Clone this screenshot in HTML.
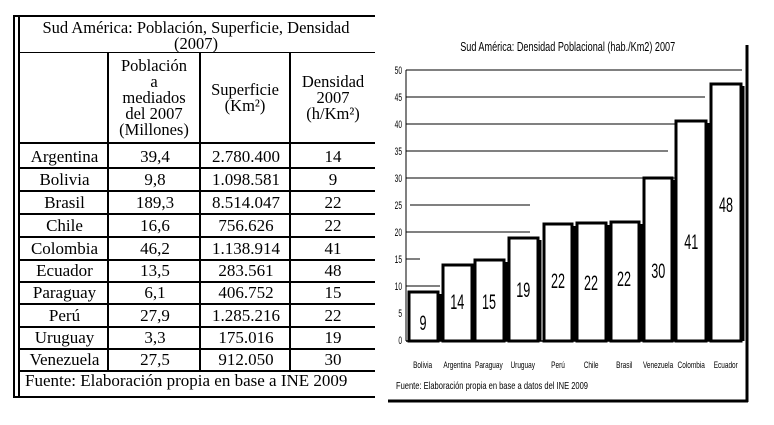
<!DOCTYPE html>
<html><head><meta charset="utf-8"><style>
body{margin:0;width:774px;height:425px;background:#fff;overflow:hidden;position:relative;font-family:"Liberation Serif",serif;color:#000}
.a{position:absolute}
.t{position:absolute;text-align:center;font-size:16.5px;line-height:16px}
.h{position:absolute;background:#000;height:2px}
.v{position:absolute;background:#000;width:2px}
</style></head><body>
<div class="h" style="left:13px;top:15px;width:362px"></div>
<div class="v" style="left:13px;top:15px;height:383px"></div>
<div class="v" style="left:18px;top:15px;height:383px"></div>
<div class="h" style="left:18px;top:52px;width:357px;height:1px"></div>
<div class="h" style="left:18px;top:142px;width:357px"></div>
<div class="h" style="left:18px;top:167px;width:357px"></div>
<div class="h" style="left:18px;top:190px;width:357px"></div>
<div class="h" style="left:18px;top:213px;width:357px"></div>
<div class="h" style="left:18px;top:236px;width:357px"></div>
<div class="h" style="left:18px;top:259px;width:357px"></div>
<div class="h" style="left:18px;top:281px;width:357px"></div>
<div class="h" style="left:18px;top:303px;width:357px"></div>
<div class="h" style="left:18px;top:326px;width:357px"></div>
<div class="h" style="left:18px;top:348px;width:357px"></div>
<div class="h" style="left:18px;top:370px;width:357px"></div>
<div class="h" style="left:13px;top:396px;width:362px"></div>
<div class="v" style="left:107px;top:52px;height:318px"></div>
<div class="v" style="left:199px;top:52px;height:318px"></div>
<div class="v" style="left:289px;top:52px;height:318px"></div>
<div class="t" style="left:20px;top:20px;width:352px">Sud América: Población, Superficie, Densidad<br>(2007)</div>
<div class="t" style="left:109px;top:58px;width:90px">Población<br>a<br>mediados<br>del 2007<br>(Millones)</div>
<div class="t" style="left:201px;top:82px;width:88px">Superficie<br>(Km²)</div>
<div class="t" style="left:291px;top:74px;width:84px">Densidad<br>2007<br>(h/Km²)</div>
<div class="a" style="left:20px;top:145px;width:355px">
<table style="border-collapse:collapse;font-size:17px;text-align:center" cellpadding="0">
<tr style="height:23px"><td style="width:89px">Argentina</td><td style="width:92px">39,4</td><td style="width:90px">2.780.400</td><td style="width:84px">14</td></tr>
<tr style="height:23px"><td>Bolivia</td><td>9,8</td><td>1.098.581</td><td>9</td></tr>
<tr style="height:23px"><td>Brasil</td><td>189,3</td><td>8.514.047</td><td>22</td></tr>
<tr style="height:23px"><td>Chile</td><td>16,6</td><td>756.626</td><td>22</td></tr>
<tr style="height:23px"><td>Colombia</td><td>46,2</td><td>1.138.914</td><td>41</td></tr>
<tr style="height:22px"><td>Ecuador</td><td>13,5</td><td>283.561</td><td>48</td></tr>
<tr style="height:22px"><td>Paraguay</td><td>6,1</td><td>406.752</td><td>15</td></tr>
<tr style="height:23px"><td>Perú</td><td>27,9</td><td>1.285.216</td><td>22</td></tr>
<tr style="height:22px"><td>Uruguay</td><td>3,3</td><td>175.016</td><td>19</td></tr>
<tr style="height:22px"><td>Venezuela</td><td>27,5</td><td>912.050</td><td>30</td></tr>
</table></div>
<div class="a" style="left:25px;top:372px;font-size:17px;line-height:18px">Fuente: Elaboración propia en base a INE 2009</div>

<svg class="a" style="left:0;top:0" width="774" height="425" viewBox="0 0 774 425" font-family="Liberation Sans, sans-serif">
<line x1="747" y1="45" x2="747" y2="402" stroke="#000" stroke-width="3"/>
<line x1="388" y1="401" x2="748" y2="401" stroke="#000" stroke-width="3"/>
<line x1="406" y1="70" x2="406" y2="341" stroke="#000" stroke-width="1"/>
<line x1="406" y1="341" x2="742" y2="341" stroke="#000" stroke-width="1.5"/>
<g stroke="#000" stroke-width="1">
<line x1="406" y1="70" x2="742" y2="70"/><line x1="406" y1="97" x2="705" y2="97"/>
<line x1="406" y1="124" x2="680" y2="124"/><line x1="406" y1="151" x2="668" y2="151"/>
<line x1="406" y1="178" x2="680" y2="178"/><line x1="410" y1="205" x2="530" y2="205"/>
<line x1="406" y1="232" x2="530" y2="232"/><line x1="406" y1="259" x2="420" y2="259"/>
<line x1="406" y1="286" x2="440" y2="286"/></g>
<g font-size="11" text-anchor="end" transform="scale(0.6,1)">
<text x="670" y="74">50</text><text x="670" y="101">45</text><text x="670" y="128">40</text>
<text x="670" y="155">35</text><text x="670" y="182">30</text><text x="670" y="209">25</text>
<text x="670" y="236">20</text><text x="670" y="263">15</text><text x="670" y="290">10</text>
<text x="670" y="317">5</text><text x="670" y="344">0</text></g>
<g fill="#fff" stroke="#000" stroke-width="3">
<rect x="409" y="292" width="29" height="49"/><rect x="443" y="265" width="29" height="76"/>
<rect x="475" y="260" width="29" height="81"/><rect x="509" y="238" width="29" height="103"/>
<rect x="544" y="224" width="28" height="117"/><rect x="577" y="223" width="29" height="118"/>
<rect x="611" y="222" width="28" height="119"/><rect x="644" y="178" width="28" height="163"/>
<rect x="676" y="121" width="30" height="220"/><rect x="711" y="84" width="30" height="257"/></g>
<g stroke="#000" stroke-width="3">
<line x1="440" y1="294" x2="440" y2="341"/><line x1="474" y1="267" x2="474" y2="341"/>
<line x1="506" y1="262" x2="506" y2="341"/><line x1="540" y1="240" x2="540" y2="341"/>
<line x1="574" y1="226" x2="574" y2="341"/><line x1="608" y1="225" x2="608" y2="341"/>
<line x1="641" y1="224" x2="641" y2="341"/><line x1="674" y1="180" x2="674" y2="341"/>
<line x1="708" y1="123" x2="708" y2="341"/><line x1="743" y1="86" x2="743" y2="341"/></g>
<g font-size="21" text-anchor="middle" transform="scale(0.6,1)">
<text x="705" y="330">9</text><text x="762" y="309">14</text><text x="815" y="309">15</text>
<text x="872" y="297">19</text><text x="930" y="288">22</text><text x="985" y="290">22</text>
<text x="1040" y="286">22</text><text x="1097" y="278">30</text><text x="1152" y="249">41</text>
<text x="1210" y="212">48</text></g>
<g font-size="9" text-anchor="middle" transform="scale(0.72,1)">
<text x="587" y="368">Bolivia</text><text x="635" y="368">Argentina</text><text x="679" y="368">Paraguay</text>
<text x="726" y="368">Uruguay</text><text x="775" y="368">Perú</text><text x="821" y="368">Chile</text>
<text x="867" y="368">Brasil</text><text x="914" y="368">Venezuela</text><text x="960" y="368">Colombia</text>
<text x="1008" y="368">Ecuador</text></g>
<text x="550" y="389" font-size="10.5" transform="scale(0.72,1)">Fuente: Elaboración propia en base a datos del INE 2009</text>
<text x="811" y="51" font-size="13" text-anchor="middle" transform="scale(0.7,1)">Sud América: Densidad Poblacional (hab./Km2) 2007</text>
</svg>
</body></html>
